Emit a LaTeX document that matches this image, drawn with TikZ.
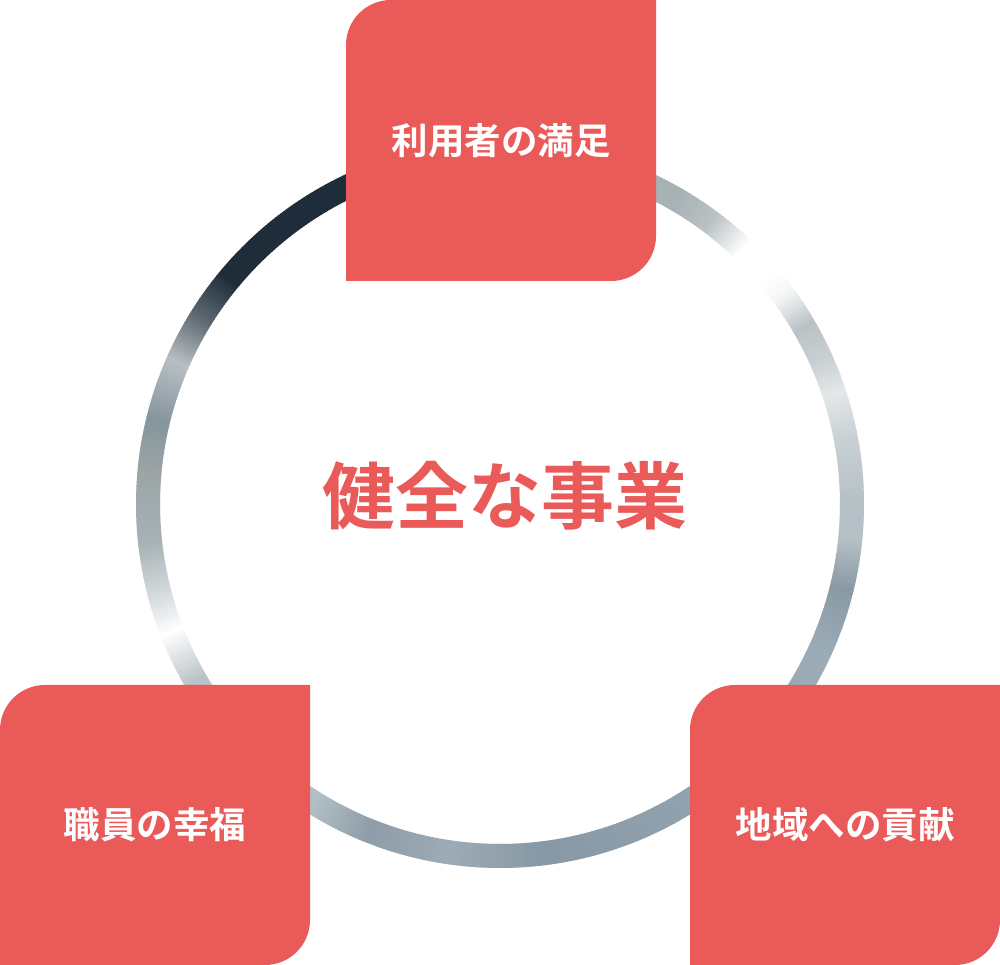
\documentclass[tikz,border=0pt]{standalone}
\usepackage{fontspec}
\usepackage{xcolor}
\usepackage{tikz}
\usetikzlibrary{calc}
\newfontfamily\cjkbold{Noto Sans CJK JP Bold}
\definecolor{petalred}{HTML}{E95A59}

\begin{document}
\begin{tikzpicture}[x=1pt, y=1pt,
    ringseg/.style={line width=24pt, line cap=butt},
    petaltext/.style={text=white, font=\cjkbold\fontsize{36.5}{36.5}\selectfont, inner sep=0pt},
    titletext/.style={text=petalred, font=\cjkbold\fontsize{73}{73}\selectfont, inner sep=0pt}]
    \useasboundingbox (0,0) rectangle (1000,965);
    \fill[white] (0,0) rectangle (1000,965);

    % Ring
    \coordinate (hub) at (500,461);
    \begin{scope}[shift={(hub)}]
    \foreach \a/\ca/\b/\cb in {0/B5C0C6/10/C8D0D4, 10/C8D0D4/18/E3E7E8, 18/E3E7E8/24/C9D0D3,
        24/C9D0D3/30/BAC2C6, 30/BAC2C6/36/F4F6F6, 36/F4F6F6/40/FFFFFF, 40/FFFFFF/46/FFFFFF,
        46/FFFFFF/53/BAC2C5, 53/BAC2C5/60/A7B2B5, 60/A7B2B5/75/A7B2B5, 75/A7B2B5/100/1E2D3A,
        100/1E2D3A/140/1F2D3A, 140/1F2D3A/148/5E6972, 148/5E6972/156/B8BFC4, 156/B8BFC4/166/85959E,
        166/85959E/174/9BA4A5, 174/9BA4A5/186/A7B2B5, 186/A7B2B5/196/DCE1E3, 196/DCE1E3/201/FFFFFF,
        201/FFFFFF/210/BAC2C6, 210/BAC2C6/238/B2BFC5, 238/B2BFC5/248/8E9DA9, 248/8E9DA9/262/9CABB6,
        262/9CABB6/277/8798A4, 277/8798A4/290/8D9EAA, 290/8D9EAA/320/97A8B5, 320/97A8B5/335/9BABB7,
        335/9BABB7/346/8A9AA5, 346/8A9AA5/354/B5C0C6, 354/B5C0C6/360/B5C0C6}{
      \definecolor{ringa}{HTML}{\ca}
      \definecolor{ringb}{HTML}{\cb}
      \pgfmathtruncatemacro{\n}{2*(\b-\a)-1}
      \foreach \k in {0,...,\n}{
        \pgfmathsetmacro{\p}{100-100*\k/(\n+1)}
        \pgfmathsetmacro{\s}{\a+\k/2}
        \draw[ringseg, ringa!\p!ringb] (\s:352) arc (\s:\s+0.7:352);
      }
    }
    \end{scope}

    % Petals
    \fill[petalred] (346,684) -- (346,920) arc (180:90:45) -- (656,965) -- (656,729) arc (0:-90:45) -- cycle;
    \node[petaltext] (users) at (501,824.5) {利用者の満足};

    \fill[petalred] (0,0) -- (0,235) arc (180:90:45) -- (310,280) -- (310,45) arc (0:-90:45) -- cycle;
    \node[petaltext] (staff) at (155,140) {職員の幸福};

    \fill[petalred] (690,0) -- (690,235) arc (180:90:45) -- (1000,280) -- (1000,45) arc (0:-90:45) -- cycle;
    \node[petaltext] (region) at (845,140) {地域への貢献};

    % Centre
    \node[titletext] (business) at (505,469) {健全な事業};
\end{tikzpicture}
\end{document}
